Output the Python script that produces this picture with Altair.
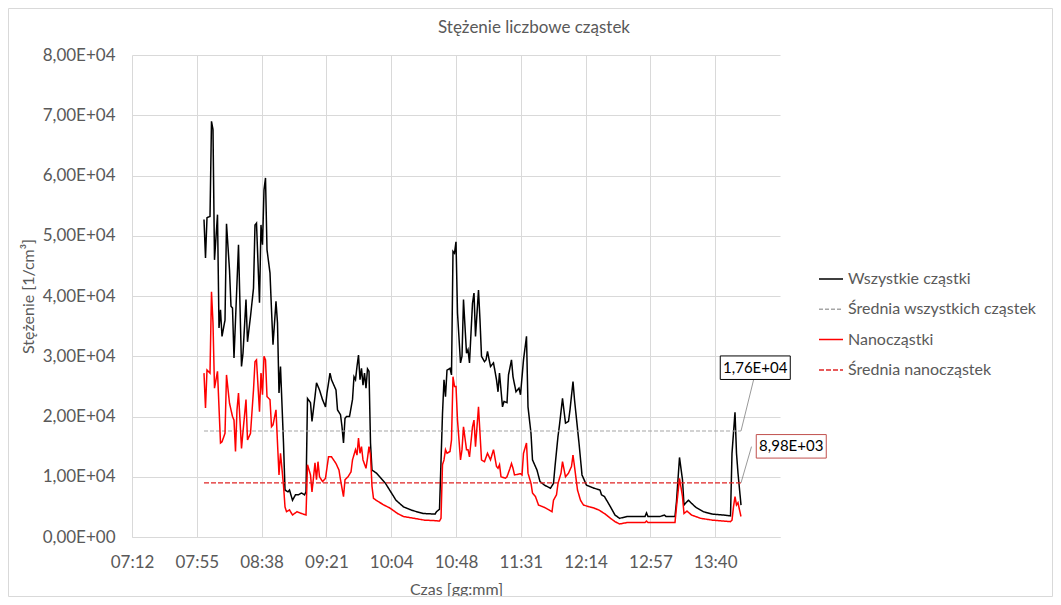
import altair as alt
import pandas as pd

title_text = "Stężenie liczbowe cząstek"
x_title = "Czas [gg:mm]"
y_title = "Stężenie [1/cm³]"
series_names = ["Wszystkie cząstki", "Średnia wszystkich cząstek", "Nanocząstki", "Średnia nanocząstek"]
series_colors = ["#000000", "#a6a6a6", "#ff0000", "#e02424"]
series_dashes = [[1, 0], [4, 2], [1, 0], [5, 2]]
x_tick_labels = ["07:12", "07:55", "08:38", "09:21", "10:04", "10:48", "11:31", "12:14", "12:57", "13:40"]
y_tick_labels = ["0,00E+00", "1,00E+04", "2,00E+04", "3,00E+04", "4,00E+04",
                 "5,00E+04", "6,00E+04", "7,00E+04", "8,00E+04"]

all_times = ["08:00", "08:01", "08:02", "08:04", "08:05", "08:06", "08:07", "08:09", "08:10", "08:11",
             "08:12", "08:14", "08:15", "08:17", "08:18", "08:19", "08:20", "08:22", "08:23", "08:25",
             "08:26", "08:28", "08:29", "08:31", "08:33", "08:34", "08:35", "08:37", "08:38", "08:39",
             "08:40", "08:41", "08:42", "08:44", "08:45", "08:46", "08:48", "08:49", "08:50", "08:51",
             "08:53", "08:54", "08:56", "08:57", "08:59", "09:01", "09:03", "09:05", "09:07", "09:08",
             "09:09", "09:11", "09:12", "09:14", "09:15", "09:17", "09:19", "09:21", "09:22", "09:24",
             "09:25", "09:28", "09:29", "09:31", "09:32", "09:33", "09:34", "09:35", "09:37", "09:39",
             "09:40", "09:41", "09:42", "09:43", "09:44", "09:45", "09:46", "09:47", "09:48", "09:49",
             "09:50", "09:51", "09:52", "09:55", "09:58", "10:01", "10:05", "10:08", "10:13", "10:19",
             "10:26", "10:34", "10:35", "10:37", "10:39", "10:40", "10:41", "10:42", "10:44", "10:45",
             "10:46", "10:47", "10:48", "10:49", "10:51", "10:52", "10:53", "10:55", "10:56", "10:57",
             "10:59", "11:00", "11:01", "11:03", "11:04", "11:05", "11:07", "11:08", "11:09", "11:11",
             "11:13", "11:15", "11:16", "11:17", "11:19", "11:20", "11:22", "11:23", "11:25", "11:26",
             "11:28", "11:30", "11:31", "11:33", "11:35", "11:36", "11:38", "11:39", "11:42", "11:44",
             "11:47", "11:51", "11:53", "11:54", "11:56", "11:57", "11:59", "12:01", "12:03", "12:04",
             "12:06", "12:07", "12:10", "12:12", "12:15", "12:20", "12:24", "12:25", "12:27", "12:31",
             "12:34", "12:37", "12:42", "12:48", "12:54", "12:55", "12:56", "13:04", "13:07", "13:08",
             "13:14", "13:15", "13:17", "13:19", "13:20", "13:21", "13:23", "13:25", "13:28", "13:33",
             "13:39", "13:46", "13:51", "13:52", "13:54", "13:55", "13:56", "13:58"]
all_values = [52700, 46300, 53000, 53200, 69000, 67600, 46000, 53500, 34700, 37700,
              33300, 36000, 52000, 44300, 38300, 38000, 29700, 42200, 48500, 28300,
              30500, 39400, 32400, 36600, 41300, 51800, 52100, 38900, 51800, 48500,
              57600, 59600, 47700, 43800, 37700, 31900, 39100, 35500, 23900, 28300,
              15600, 7800, 7500, 7800, 6100, 7000, 7000, 7300, 7000, 7500,
              23000, 22300, 19200, 23300, 25600, 24400, 22800, 21600, 23900, 27200,
              26100, 24400, 21100, 20300, 18300, 15600, 19700, 20000, 20000, 22800,
              26600, 26100, 28300, 30200, 26100, 28000, 25200, 27200, 24700, 27900,
              27500, 15600, 11100, 10600, 9750, 8900, 7300, 6100, 5000, 4400,
              3900, 3800, 4200, 4600, 20500, 26100, 23300, 27700, 28000, 26900,
              47400, 47100, 49000, 37200, 28900, 30000, 39400, 30500, 31100, 28900,
              38800, 40500, 33300, 41000, 36000, 30000, 29100, 29400, 30800, 28300,
              28900, 26100, 24100, 27200, 21600, 22500, 22300, 26900, 29400, 26600,
              24100, 24700, 23600, 29400, 33300, 21600, 17200, 12800, 11100, 9200,
              8600, 8100, 8900, 11700, 16700, 18600, 23000, 18900, 19200, 21100,
              25800, 22800, 15600, 10300, 8600, 8100, 7800, 7000, 6700, 5000,
              3650, 3100, 3400, 3400, 3400, 4000, 3400, 3400, 3650, 3400,
              3400, 5900, 13200, 9500, 5300, 5600, 6100, 5600, 4900, 4200,
              3800, 3650, 3500, 13900, 20700, 13900, 10600, 5300]

nano_times = ["08:00", "08:01", "08:02", "08:04", "08:05", "08:06", "08:07", "08:09", "08:11", "08:12",
              "08:14", "08:15", "08:17", "08:19", "08:20", "08:21", "08:22", "08:23", "08:25", "08:26",
              "08:28", "08:29", "08:31", "08:33", "08:34", "08:35", "08:37", "08:38", "08:39", "08:40",
              "08:41", "08:42", "08:44", "08:45", "08:46", "08:48", "08:49", "08:50", "08:51", "08:53",
              "08:54", "08:55", "08:57", "08:59", "09:02", "09:05", "09:08", "09:09", "09:11", "09:12",
              "09:14", "09:15", "09:16", "09:17", "09:19", "09:21", "09:23", "09:25", "09:28", "09:30",
              "09:31", "09:33", "09:34", "09:36", "09:38", "09:39", "09:41", "09:42", "09:43", "09:44",
              "09:45", "09:46", "09:48", "09:49", "09:50", "09:51", "09:52", "09:53", "09:56", "10:00",
              "10:04", "10:09", "10:13", "10:20", "10:27", "10:35", "10:37", "10:38", "10:39", "10:40",
              "10:41", "10:42", "10:44", "10:45", "10:46", "10:47", "10:48", "10:49", "10:51", "10:52",
              "10:53", "10:55", "10:56", "10:57", "10:59", "11:00", "11:01", "11:03", "11:04", "11:05",
              "11:07", "11:09", "11:11", "11:13", "11:15", "11:16", "11:17", "11:18", "11:21", "11:22",
              "11:24", "11:25", "11:26", "11:27", "11:31", "11:32", "11:33", "11:35", "11:36", "11:38",
              "11:39", "11:41", "11:43", "11:47", "11:50", "11:52", "11:53", "11:55", "11:56", "11:58",
              "11:59", "12:01", "12:03", "12:05", "12:06", "12:07", "12:09", "12:11", "12:13", "12:17",
              "12:20", "12:23", "12:25", "12:27", "12:31", "12:34", "12:37", "12:42", "12:54", "12:55",
              "12:56", "13:14", "13:15", "13:17", "13:19", "13:20", "13:22", "13:25", "13:31", "13:39",
              "13:51", "13:52", "13:53", "13:54", "13:55", "13:56", "13:57", "13:58"]
nano_values = [27200, 21400, 27700, 27200, 40700, 35500, 24700, 27500, 15600, 15800,
               17200, 26900, 22200, 20000, 19400, 14200, 21100, 23900, 14700, 17500,
               22800, 16100, 17200, 24400, 29100, 29400, 20800, 27200, 23600, 30000,
               29400, 23300, 22800, 18300, 18600, 21100, 15600, 10300, 13900, 8600,
               5000, 4200, 4500, 3650, 4200, 3900, 3650, 12000, 10300, 7500,
               12300, 9500, 12500, 10000, 9200, 9750, 13300, 13300, 12200, 11100,
               9500, 6700, 9500, 10000, 10800, 12800, 14500, 13600, 16400, 13900,
               15000, 12800, 11400, 13100, 15000, 13600, 8400, 6400, 5900, 5300,
               4800, 3900, 3400, 3100, 2800, 2700, 2650, 3100, 12000, 12800,
               14500, 13900, 14200, 16100, 26600, 25000, 25000, 19400, 12800, 14500,
               18300, 14500, 14500, 13300, 18300, 19400, 15000, 21600, 17200, 12800,
               12500, 13900, 12800, 14500, 11700, 11400, 12000, 10000, 9750, 10000,
               11400, 12200, 11400, 10300, 10500, 10300, 13900, 15600, 10600, 8900,
               7300, 6700, 5300, 4900, 4500, 4200, 6100, 7000, 8900, 10600,
               12500, 10000, 10600, 11700, 13600, 11700, 7800, 6100, 5300, 5000,
               4800, 4500, 4200, 3900, 3100, 2550, 2160, 2400, 2400, 2650,
               2400, 2400, 5000, 9750, 6700, 3900, 4300, 3650, 3100, 2800,
               2550, 2800, 5000, 6700, 5300, 5700, 4500, 3400]

mean_all = 17600
mean_nano = 8980
mean_labels = ["1,76E+04", "8,98E+03"]
mean_label_colors = ["#000000", "#c0504d"]


def to_min(s):
    h, m = s.split(":")
    return int(h) * 60 + int(m)


def series_df(name, times, values):
    return pd.DataFrame({"series": name, "t": [to_min(s) for s in times], "v": values})


df_all = series_df(series_names[0], all_times, all_values)
df_nano = series_df(series_names[2], nano_times, nano_values)
df_mean_all = series_df(series_names[1], [all_times[0], all_times[-1]], [mean_all, mean_all])
df_mean_nano = series_df(series_names[3], [nano_times[0], nano_times[-1]], [mean_nano, mean_nano])

# annotation placement (label boxes and leader lines, in data units)
end_t = to_min(all_times[-1])
ann = pd.DataFrame({
    "label": mean_labels,
    "stroke": mean_label_colors,
    "bt": [847.5, 871.5],
    "bv": [28100, 15050],
    "t0": [end_t, end_t],
    "v0": [mean_all, mean_nano],
    "t1": [846.5, 845.0],
    "v1": [26200, 15000],
})

x_start = 432
x_step = 43.2
x_enc = alt.X(
    "t:Q",
    scale=alt.Scale(domain=[432, 864], nice=False, zero=False),
    axis=alt.Axis(
        values=[x_start + x_step * i for i in range(len(x_tick_labels))],
        labelExpr="%s[round((datum.value - %s) / %s)]" % (x_tick_labels, x_start, x_step),
        title=x_title,
        grid=True,
        ticks=False,
        domain=True,
        domainColor="#d9d9d9",
        labelFlush=False,
        labelPadding=17,
        titlePadding=11,
    ),
)
y_enc = alt.Y(
    "v:Q",
    scale=alt.Scale(domain=[0, 80000], nice=False),
    axis=alt.Axis(
        values=[10000 * i for i in range(len(y_tick_labels))],
        labelExpr="%s[round(datum.value / 10000)]" % (y_tick_labels,),
        title=y_title,
        grid=True,
        ticks=False,
        domain=False,
        labelFlush=False,
        labelPadding=17,
        titlePadding=6,
    ),
)
legend_cfg = dict(title=None, orient="none", legendX=686, legendY=211)
color_enc = alt.Color("series:N", scale=alt.Scale(domain=series_names, range=series_colors),
                      legend=alt.Legend(**legend_cfg))
dash_enc = alt.StrokeDash("series:N", scale=alt.Scale(domain=series_names, range=series_dashes),
                          legend=alt.Legend(**legend_cfg))


def line_layer(df, width):
    return alt.Chart(df).mark_line(strokeWidth=width).encode(
        x=x_enc, y=y_enc, color=color_enc, strokeDash=dash_enc
    )


# thin frame around the whole chart area (Excel chart border)
frame = alt.Chart(pd.DataFrame({"f": [0]})).mark_rect(
    fill=None, stroke="#d9d9d9", strokeWidth=1
).encode(
    x=alt.value(-123.5), x2=alt.value(920.5), y=alt.value(-46.5), y2=alt.value(541.5)
)

# chart title, centred on the whole chart area as in Excel
title_mark = alt.Chart(pd.DataFrame({"title": [title_text]})).mark_text(
    font="Lato", fontSize=17, color="#595959", align="center", baseline="middle"
).encode(
    x=alt.value(402), y=alt.value(-27), text="title:N"
)

leaders = alt.Chart(ann).mark_rule(color="#7f7f7f", strokeWidth=0.8).encode(
    x="t0:Q", y="v0:Q", x2="t1:Q", y2="v1:Q"
)
boxes = alt.Chart(ann).mark_point(
    shape="M-1,-0.336H1V0.336H-1Z", size=4900, filled=False, fill="white", fillOpacity=1,
    strokeWidth=1, opacity=1
).encode(
    x="bt:Q", y="bv:Q", stroke=alt.Stroke("stroke:N", scale=None)
)
texts = alt.Chart(ann).mark_text(fontSize=15, font="Lato", color="#000000").encode(
    x="bt:Q", y="bv:Q", text="label:N"
)

chart = alt.layer(
    frame,
    title_mark,
    line_layer(df_all, 1.5),
    line_layer(df_mean_all, 1.1),
    line_layer(df_nano, 1.5),
    line_layer(df_mean_nano, 1.2),
    leaders,
    boxes,
    texts,
).properties(
    width=648,
    height=482,
    autosize="none",
    padding={"left": 124, "top": 47, "right": 273, "bottom": 60},
).configure_view(
    stroke=None
).configure_axis(
    gridColor="#d9d9d9",
    gridWidth=1,
    labelFont="Lato",
    labelFontSize=17,
    labelColor="#595959",
    titleFont="Lato",
    titleFontSize=16,
    titleColor="#595959",
    titleFontWeight="normal",
).configure_legend(
    labelFont="Lato",
    labelFontSize=16,
    labelColor="#595959",
    symbolType="stroke",
    symbolSize=576,
    symbolStrokeWidth=1.5,
    rowPadding=9.3,
    labelOffset=4,
    padding=0,
    labelLimit=300,
)

chart.save("out.html", embed_options={"renderer": "svg", "actions": False})
